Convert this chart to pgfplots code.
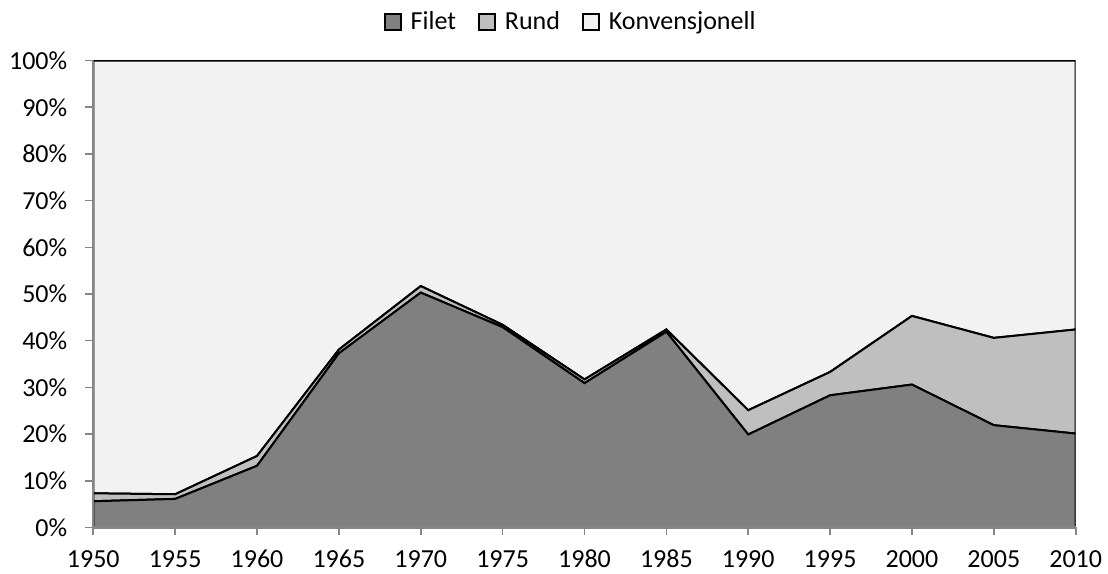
\documentclass[border=0pt]{standalone}
\usepackage{fontspec}
\setmainfont{Carlito}
\usepackage{pgfplots}
\pgfplotsset{compat=1.18}
\definecolor{filet}{RGB}{128,128,128}
\definecolor{rund}{RGB}{191,191,191}
\definecolor{konv}{RGB}{242,242,242}
\definecolor{axisgray}{RGB}{134,134,134}
\begin{document}
\fontsize{13}{15}\selectfont
\begin{tikzpicture}
\begin{axis}[
  scale only axis, width=491.2pt, height=233.4pt,
  xmin=1950, xmax=2010, ymin=0, ymax=100,
  stack plots=y,
  axis x line*=bottom, axis y line*=left,
  axis line style={draw=axisgray, line width=1.2pt},
  xtick={1950,1955,...,2010}, ytick={0,10,...,100},
  xticklabels={1950,1955,1960,1965,1970,1975,1980,1985,1990,1995,2000,2005,2010},
  yticklabels={0\%,10\%,20\%,30\%,40\%,50\%,60\%,70\%,80\%,90\%,100\%},
  xticklabel style={text height=9pt, text depth=0pt, yshift=-2.5pt},
  yticklabel style={xshift=-4.5pt},
  tick align=outside, major tick length=4pt,
  tick style={draw=axisgray, line width=0.8pt},
  axis on top,
  legend style={at={(0.487,1)}, anchor=center, yshift=19.3pt, draw=none, fill=none,
    legend columns=3, /tikz/every even column/.append style={column sep=9pt}},
  legend image code/.code={\path[draw=none, fill=none] (0pt,0pt) -- (11pt,0pt);\draw[#1, draw=black, line width=0.8pt] (0pt,-4pt) rectangle (8pt,4pt);},
]
\addplot[fill=filet, draw=black, line width=1pt] coordinates {
(1950,5.6) (1955,6.1) (1960,13.2) (1965,37.3) (1970,50.3) (1975,42.9) (1980,30.9)
(1985,41.9) (1990,19.9) (1995,28.3) (2000,30.6) (2005,21.9) (2010,20.1)} \closedcycle;
\addlegendentry{Filet}
\addplot[fill=rund, draw=black, line width=1pt] coordinates {
(1950,1.7) (1955,1.0) (1960,2.1) (1965,0.8) (1970,1.4) (1975,0.5) (1980,0.8)
(1985,0.5) (1990,5.2) (1995,5.0) (2000,14.7) (2005,18.7) (2010,22.3)} \closedcycle;
\addlegendentry{Rund}
\addplot[fill=konv, draw=black, line width=1pt] coordinates {
(1950,92.7) (1955,92.9) (1960,84.7) (1965,61.9) (1970,48.3) (1975,56.6) (1980,68.3)
(1985,57.6) (1990,74.9) (1995,66.7) (2000,54.7) (2005,59.4) (2010,57.6)} \closedcycle;
\addlegendentry{Konvensjonell}
\end{axis}
\pgfresetboundingbox
\path (current axis.south west) ++(-46.65pt,-22.85pt) rectangle ([xshift=16.15pt,yshift=30.3pt]current axis.north east);
\end{tikzpicture}
\end{document}
